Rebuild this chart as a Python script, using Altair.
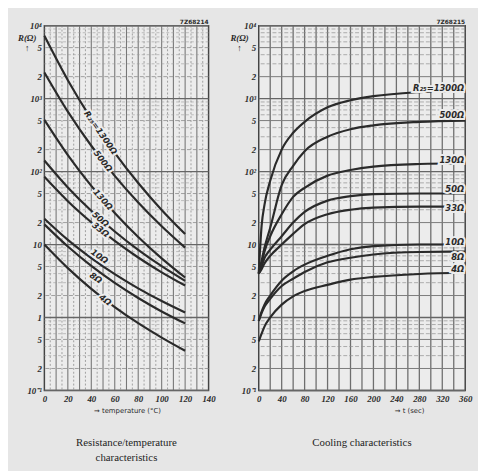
import altair as alt
import pandas as pd

# ---------------- data ----------------
curve_names = ["1300", "500", "130", "50", "33", "10", "8", "4"]

# Resistance / temperature characteristics (R in ohm at T in degC)
temp_c = [0, 20, 40, 60, 80, 100, 120]
rt_1300 = [7254, 1790, 529, 181, 69.8, 29.8, 13.9]
rt_500 = [2286, 664, 226, 87.4, 37.7, 17.8, 9.06]
rt_130 = [510, 168, 63.6, 27.1, 12.7, 6.47, 3.53]
rt_50 = [142, 60.7, 29.0, 15.1, 8.46, 5.05, 3.18]
rt_33 = [84.7, 39.3, 20.2, 11.19, 6.64, 4.16, 2.74]
rt_10 = [22.6, 11.6, 6.53, 3.93, 2.51, 1.68, 1.17]
rt_8 = [18.9, 9.39, 5.10, 2.98, 1.85, 1.21, 0.83]
rt_4 = [10.0, 4.75, 2.47, 1.39, 0.835, 0.53, 0.35]

# Cooling characteristics (R in ohm at t in sec)
time_s = [0, 5, 10, 20, 40, 60, 80, 120, 160, 200, 280, 360]
cool_1300 = [4, 18, 35, 75, 200, 340, 480, 760, 950, 1080, 1230, 1300]
cool_500 = [4, 6, 9, 17, 65, 120, 190, 300, 380, 430, 480, 500]
cool_130 = [4, 5.5, 8, 13, 26, 45, 60, 88, 105, 117, 127, 130]
cool_50 = [4, 5, 6.5, 8.5, 13, 20, 28, 40, 46, 49, 50, 50]
cool_33 = [4, 4.6, 5.5, 7, 10, 14, 19, 26, 30, 32, 33, 33]
cool_10 = [0.9, 1.2, 1.5, 2.0, 3.2, 4.3, 5.3, 7.0, 8.6, 9.5, 10, 10]
cool_8 = [0.9, 1.15, 1.4, 1.8, 2.7, 3.4, 4.2, 5.7, 6.6, 7.3, 7.9, 8]
cool_4 = [0.47, 0.6, 0.75, 1.0, 1.5, 1.95, 2.3, 2.8, 3.3, 3.6, 3.95, 4.1]

# curve labels
left_label_text = ["R₂₅=1300Ω", "500Ω", "130Ω", "50Ω", "33Ω", "10Ω", "8Ω", "4Ω"]
left_label_T = [48, 50, 50, 48, 48, 47, 44, 52]
left_label_R = [344, 140, 41.5, 22.3, 16.0, 6.9, 3.5, 1.75]
left_label_angle = [55, 52, 49, 41, 38, 35, 35, 37]

right_label_text = ["R₂₅=1300Ω", "500Ω", "130Ω", "50Ω", "33Ω", "10Ω", "8Ω", "4Ω"]
right_label_t = [358, 358, 358, 358, 358, 358, 358, 358]
right_label_R = [1415, 594, 143, 58, 32, 10.8, 6.8, 4.55]

# axis tick values
temp_ticks = [0, 20, 40, 60, 80, 100, 120, 140]
time_ticks = [0, 40, 80, 120, 160, 200, 240, 280, 320, 360]
r_ticks = [0.1, 0.2, 0.5, 1, 2, 5, 10, 20, 50, 100, 200, 500, 1000, 2000, 5000, 10000]
r_decades = [0.1, 1, 10, 100, 1000, 10000]
r_25 = [0.2, 0.5, 2, 5, 20, 50, 200, 500, 2000, 5000]
r_minor = [m * 10 ** e for e in range(-1, 4) for m in (3, 4, 6, 7, 8, 9)]
temp_major = list(range(10, 140, 10))
temp_minor = list(range(5, 140, 10))
time_major = list(range(20, 360, 20))

# ---------------- styling ----------------
BG = "#e6e6e6"
VIEW = "#ececec"
INK = "#2a2a2a"
SERIF = "Liberation Serif"
SANS = "DejaVu Sans"

LABEL_EXPR = (
    "datum.value == 10000 ? '10⁴' : datum.value == 1000 ? '10³' : "
    "datum.value == 100 ? '10²' : datum.value == 10 ? '10' : "
    "datum.value == 1 ? '1' : datum.value == 0.1 ? '10⁻¹' : "
    "format(round(datum.value / pow(10, floor(log(datum.value) / LN10 + 1e-9))), 'd')"
)


def long_frame(xs, series, xname):
    rows = []
    for name, vals in zip(curve_names, series):
        for x, v in zip(xs, vals):
            rows.append({xname: x, "R": v, "curve": name})
    return pd.DataFrame(rows)


df_temp = long_frame(temp_c, [rt_1300, rt_500, rt_130, rt_50, rt_33, rt_10, rt_8, rt_4], "T")
df_cool = long_frame(time_s, [cool_1300, cool_500, cool_130, cool_50, cool_33, cool_10, cool_8, cool_4], "t")

W_L, W_R, H = 167, 210, 371
ydom = alt.Scale(type="log", domain=[0.1, 10000], nice=False)


def y_axis(title_x):
    return alt.Axis(
        values=r_ticks, labelExpr=LABEL_EXPR, grid=False, ticks=False, domain=False,
        labelFont=SERIF, labelFontStyle="italic", labelFontWeight="bold", labelFontSize=9,
        labelColor=INK, labelPadding=3, labelOverlap=False,
        title=["R(Ω)", "↑"], titleAngle=0, titleX=title_x, titleY=12, titleAlign="center",
        titleBaseline="middle", titleFont=SERIF, titleFontStyle="italic", titleFontWeight="bold",
        titleFontSize=9, titleColor=INK, titleLineHeight=10,
    )


def x_axis(values, title, title_x):
    return alt.Axis(
        values=values, grid=False, ticks=False, domain=False, format="d",
        labelFont=SERIF, labelFontStyle="italic", labelFontWeight="bold", labelFontSize=9,
        labelColor=INK, labelPadding=4, labelFlush=False,
        title=title, titleFont=SANS, titleFontSize=7, titleFontWeight="normal",
        titleColor=INK, titleX=title_x, titleAlign="center", titlePadding=3,
    )


def make_panel(df, xname, xscale, xticks, xtitle, xtitle_x, ytitle_x, vgrids, hgrids,
               labels_df, label_kw, label_enc, code, width, caption):
    X = alt.X(f"{xname}:Q", scale=xscale, axis=x_axis(xticks, xtitle, xtitle_x))
    Y = alt.Y("R:Q", scale=ydom, axis=y_axis(ytitle_x))
    layers = []
    for vals, w, col, dash in vgrids:
        kw = dict(color=col, strokeWidth=w)
        if dash:
            kw["strokeDash"] = dash
        layers.append(alt.Chart(pd.DataFrame({xname: vals})).mark_rule(**kw).encode(x=X))
    for vals, w, col, dash in hgrids:
        kw = dict(color=col, strokeWidth=w)
        if dash:
            kw["strokeDash"] = dash
        layers.append(alt.Chart(pd.DataFrame({"R": vals})).mark_rule(**kw).encode(y=Y))
    layers.append(alt.Chart(df).mark_line(color=INK, strokeWidth=2.2, interpolate="monotone").encode(
        x=X, y=Y, detail="curve:N"))
    layers.append(alt.Chart(labels_df).mark_text(color=VIEW, stroke=VIEW, strokeWidth=4, **label_kw)
                  .encode(x=X, y=Y, text="txt:N", **label_enc))
    layers.append(alt.Chart(labels_df).mark_text(color=INK, **label_kw)
                  .encode(x=X, y=Y, text="txt:N", **label_enc))
    layers.append(alt.Chart(pd.DataFrame({"c": [code]})).mark_text(
        font=SANS, fontSize=6, fontWeight="bold", color=INK, align="right", baseline="bottom"
    ).encode(text="c:N", x=alt.value(width), y=alt.value(-1)))
    return alt.layer(*layers).properties(width=width, height=H, title=caption)


df_ll = pd.DataFrame({"T": left_label_T, "R": left_label_R, "a": left_label_angle, "txt": left_label_text})
df_rl = pd.DataFrame({"t": right_label_t, "R": right_label_R, "txt": right_label_text})

left = make_panel(
    df_temp, "T", alt.Scale(domain=[0, 140], nice=False), temp_ticks, "→ temperature (°C)", 84, -18,
    [(temp_minor, 0.8, "#8c8c8c", [2, 2]), (temp_major, 1.1, "#777777", None)],
    [(r_minor, 0.6, "#9a9a9a", [3, 2]), (r_25, 0.8, "#8a8a8a", [4, 2]), (r_decades, 1.3, "#666666", None)],
    df_ll, dict(font=SANS, fontSize=8.5, fontWeight="bold", fontStyle="italic"),
    dict(angle=alt.Angle("a:Q", scale=None)), "7Z68214", W_L,
    alt.TitleParams(["Resistance/temperature", "characteristics"], orient="bottom",
                    font=SERIF, fontSize=11, fontWeight="normal", color="#1e1e1e",
                    offset=25, lineHeight=15),
)

right = make_panel(
    df_cool, "t", alt.Scale(domain=[0, 360], nice=False), time_ticks, "→ t (sec)", 153, -20,
    [(time_major, 1.3, "#6e6e6e", None)],
    [(r_minor, 0.7, "#8f8f8f", [4, 2]), (r_25, 1.0, "#7a7a7a", None), (r_decades, 1.4, "#666666", None)],
    df_rl, dict(font=SANS, fontSize=8.5, fontWeight="bold", fontStyle="italic", align="right"),
    {}, "7Z68215", W_R,
    alt.TitleParams("Cooling characteristics", orient="bottom",
                    font=SERIF, fontSize=11, fontWeight="normal", color="#1e1e1e", offset=25),
)

chart = alt.hconcat(left, right, spacing=12).properties(
    background=BG, padding={"left": 8, "top": 6, "right": 5, "bottom": 5}
).configure_view(fill=VIEW, stroke="#444444", strokeWidth=1.5)

chart.save("out.html", embed_options={"renderer": "svg", "actions": False})
